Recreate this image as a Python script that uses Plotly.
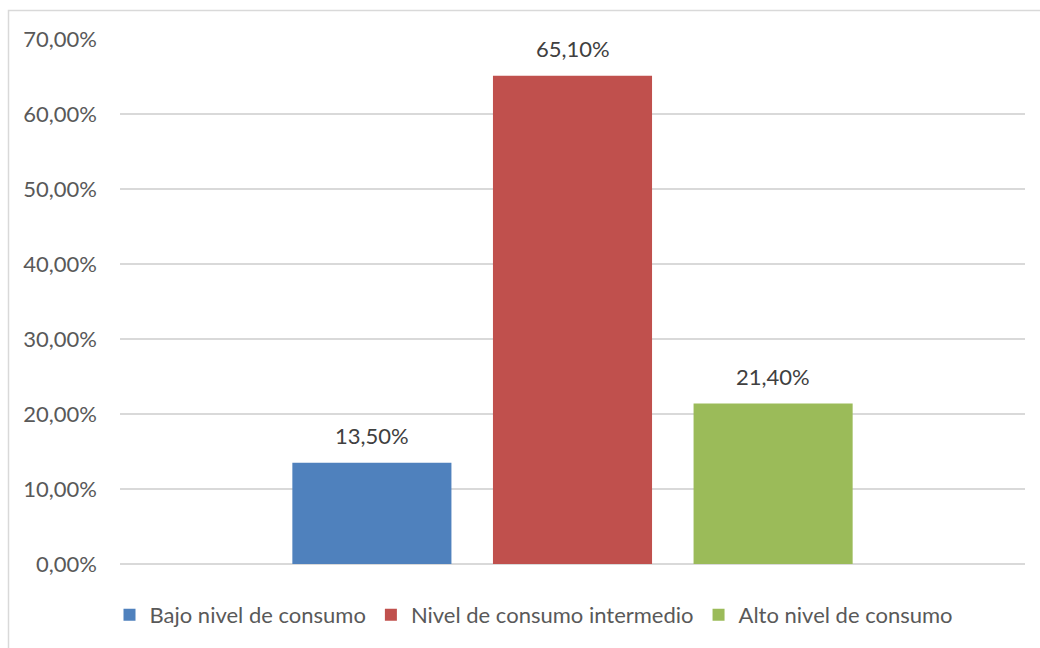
import plotly.graph_objects as go

# Consumption level shares (percent)
series_names = ["Bajo nivel de consumo", "Nivel de consumo intermedio", "Alto nivel de consumo"]
shares = [13.5, 65.1, 21.4]
colors = ["#4F81BD", "#C0504D", "#9BBB59"]
category = [""]

tick_values = [0, 10, 20, 30, 40, 50, 60, 70]
tick_labels = ["0,00%", "10,00%", "20,00%", "30,00%", "40,00%", "50,00%", "60,00%", "70,00%"]

FONT = "Lato, Open Sans, sans-serif"
TEXT = "#595959"
FS = 22
BARGAP = 0.335
BARGROUPGAP = 0.207


def pct(v):
    return f"{v:.2f}".replace(".", ",") + "%"


fig = go.Figure()
for name, val, col in zip(series_names, shares, colors):
    fig.add_trace(go.Bar(
        x=category, y=[val], name=name, offsetgroup=name,
        marker=dict(color=col, line=dict(width=0)),
        text=[pct(val)], textposition="none",
    ))

W, H = 1040, 648
L, R, T, B = 120, 15, 39, 84
pw, ph = W - L - R, H - T - B


def px_x(p):
    return (p - L) / pw


def px_y(p):
    return (H - B - p) / ph


# value labels above each bar, at the centre of each series' slot in the group
n = len(shares)
slot = (1 - BARGAP) / n
for i, val in enumerate(shares):
    fig.add_annotation(xref="x", yref="y", x=(i - (n - 1) / 2) * slot, y=val, text=pct(val),
                       showarrow=False, xanchor="center", yanchor="bottom", yshift=12,
                       font=dict(family=FONT, size=FS, color="#404040"))

# outer chart frame
fig.add_shape(type="rect", xref="paper", yref="paper",
              x0=px_x(8.5), x1=px_x(1046), y0=px_y(655), y1=px_y(10.5),
              line=dict(color="#D9D9D9", width=1.5), fillcolor="rgba(0,0,0,0)", layer="below")

fig.update_layout(
    width=W, height=H,
    margin=dict(l=L, r=R, t=T, b=B),
    paper_bgcolor="white", plot_bgcolor="white",
    barmode="group", bargap=BARGAP, bargroupgap=BARGROUPGAP,
    font=dict(family=FONT, size=FS, color=TEXT),
    showlegend=True,
    legend=dict(orientation="h", x=px_x(534), xanchor="center", y=px_y(615), yanchor="middle",
                font=dict(family=FONT, size=FS, color=TEXT), itemwidth=30,
                traceorder="normal"),
    xaxis=dict(showticklabels=False, showgrid=False, zeroline=False, showline=False),
    yaxis=dict(range=[0, 70], tickvals=tick_values, ticktext=tick_labels,
               showgrid=True, gridcolor="#D9D9D9", gridwidth=1.5,
               zeroline=True, zerolinecolor="#D9D9D9", zerolinewidth=1.5,
               showline=False, ticks="", ticklabelstandoff=22,
               tickfont=dict(family=FONT, size=FS, color=TEXT)),
)

fig.write_html("out.html")
